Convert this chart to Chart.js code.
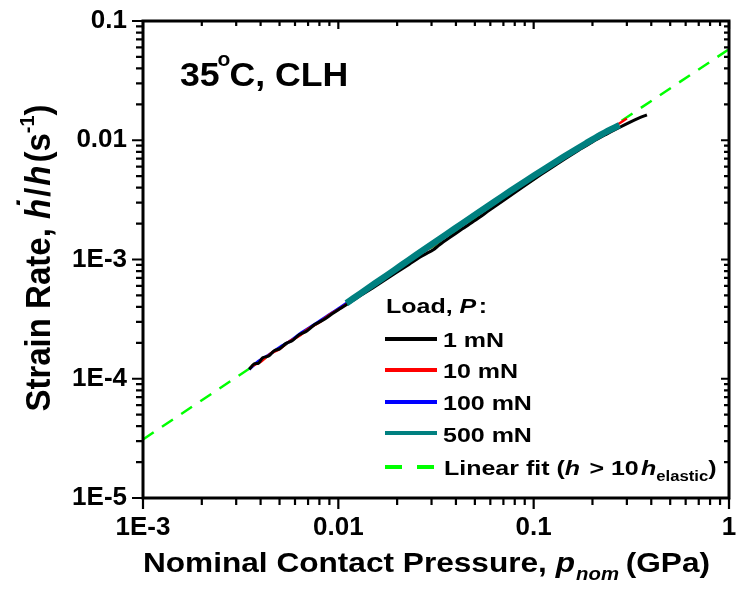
<!DOCTYPE html>
<html lang="en">
<head>
<meta charset="UTF-8" />
<title>Strain rate vs nominal contact pressure</title>
<script src="https://cdn.jsdelivr.net/npm/chart.js@4.4.0/dist/chart.umd.min.js"></script>
<style>
  body { margin: 0; background: #fff; }
</style>
</head>
<body>
<canvas id="myChart" width="736" height="603"></canvas>
<script>
// --- data (x: GPa, y: 1/s) ---
const x1mN = [0.0035,0.0037,0.0039,0.0041,0.0044,0.0047,0.005,0.0054,0.0058,0.0063,0.0069,0.0076,0.0084,0.0093,0.0103,0.0115,0.013,0.015,0.017,0.02,0.023,0.026,0.0285,0.0305,0.033,0.037,0.043,0.05,0.06,0.07,0.085,0.1,0.12,0.145,0.17,0.2,0.235,0.27,0.31,0.345,0.38];
const y1mN = [1.20e-4,1.33e-4,1.35e-4,1.50e-4,1.55e-4,1.72e-4,1.78e-4,1.98e-4,2.08e-4,2.34e-4,2.52e-4,2.86e-4,3.12e-4,3.50e-4,3.90e-4,4.38e-4,4.98e-4,5.78e-4,6.60e-4,7.85e-4,9.10e-4,1.04e-3,1.13e-3,1.20e-3,1.33e-3,1.52e-3,1.80e-3,2.12e-3,2.62e-3,3.12e-3,3.90e-3,4.68e-3,5.72e-3,7.00e-3,8.25e-3,9.70e-3,0.0112,0.0126,0.0141,0.0153,0.0163];

const x10mN = [0.0036,0.004,0.0045,0.005,0.0056,0.0063,0.007,0.008,0.009,0.0103,0.0118,0.0135,0.0155,0.018,0.021,0.025,0.03,0.036,0.043,0.052,0.063,0.076,0.092,0.11,0.13,0.155,0.185,0.22,0.26,0.30];
const y10mN = [1.28e-4,1.38e-4,1.63e-4,1.77e-4,2.05e-4,2.28e-4,2.62e-4,2.96e-4,3.44e-4,3.92e-4,4.58e-4,5.30e-4,6.20e-4,7.30e-4,8.70e-4,1.05e-3,1.28e-3,1.58e-3,1.93e-3,2.38e-3,2.95e-3,3.62e-3,4.45e-3,5.38e-3,6.42e-3,7.72e-3,9.30e-3,0.0111,0.0131,0.0152];

const x100mN = [0.0035,0.0039,0.0044,0.005,0.0057,0.0065,0.0075,0.0087,0.01,0.0115,0.0133,0.0155,0.018,0.021,0.025,0.03,0.036,0.043,0.052,0.063,0.076,0.092,0.11,0.13,0.155,0.185,0.22,0.265];
const y100mN = [1.20e-4,1.40e-4,1.58e-4,1.83e-4,2.08e-4,2.44e-4,2.83e-4,3.33e-4,3.86e-4,4.52e-4,5.30e-4,6.25e-4,7.38e-4,8.75e-4,1.06e-3,1.30e-3,1.60e-3,1.95e-3,2.41e-3,2.98e-3,3.68e-3,4.52e-3,5.45e-3,6.50e-3,7.80e-3,9.35e-3,0.0111,0.0130];

const x500mN = [0.011,0.013,0.0155,0.018,0.021,0.025,0.03,0.036,0.043,0.052,0.063,0.076,0.092,0.11,0.13,0.155,0.185,0.22,0.25,0.275];
const y500mN = [4.30e-4,5.20e-4,6.35e-4,7.50e-4,8.95e-4,1.09e-3,1.34e-3,1.64e-3,2.00e-3,2.47e-3,3.05e-3,3.75e-3,4.60e-3,5.55e-3,6.60e-3,7.90e-3,9.40e-3,0.0111,0.0124,0.0134];

// linear fit (straight on log-log), end points at the axis limits
const xFit = [0.001, 1];
const yFit = [3.1e-5, 0.058];

const xTickValues = [0.001, 0.01, 0.1, 1];
const xTickLabels = ['1E-3', '0.01', '0.1', '1'];
const yTickValues = [1e-5, 1e-4, 1e-3, 0.01, 0.1];
const yTickLabels = ['1E-5', '1E-4', '1E-3', '0.01', '0.1'];

const seriesNames = ['1 mN', '10 mN', '100 mN', '500 mN'];
const seriesColors = ['#000000', '#ff0000', '#0000ff', '#008080'];
const fitColor = '#00ff00';

const FONT = '"Liberation Sans", Arial, sans-serif';

function pts(xs, ys) {
  return xs.map((x, i) => ({ x: x, y: ys[i] }));
}

// draws a run of text pieces left to right, returns width
function richText(ctx, parts, x, y, measureOnly) {
  let cx = x;
  parts.forEach(p => {
    ctx.font = (p.italic ? 'italic ' : '') + 'bold ' + p.size + 'px ' + FONT;
    const w = ctx.measureText(p.t).width;
    if (!measureOnly) {
      ctx.fillText(p.t, cx, y + (p.dy || 0));
      if (p.dot) {
        // dot accent over the italic h
        ctx.fillText('\u02D9', cx + w * 0.42, y - p.size * 0.22);
      }
    }
    cx += w + (p.gap || 0);
  });
  return cx - x;
}

// same, stretched horizontally by sx
function richTextScaled(ctx, parts, x, y, sx) {
  ctx.save();
  ctx.translate(x, y);
  ctx.scale(sx, 1);
  richText(ctx, parts, 0, 0);
  ctx.restore();
}

const decor = {
  id: 'decor',
  afterDatasetsDraw(chart) {
    const ctx = chart.ctx;
    const xs = chart.scales.x, ys = chart.scales.y;
    const L = xs.left, R = xs.right, T = ys.top, B = ys.bottom;
    ctx.save();
    ctx.strokeStyle = '#000';
    ctx.fillStyle = '#000';
    ctx.lineWidth = 3;
    ctx.strokeRect(L, T, R - L, B - T);

    ctx.lineWidth = 2.2;
    ctx.beginPath();
    // x ticks: bottom outward, top inward
    for (let e = -3; e <= 0; e++) {
      for (let m = 1; m <= 9; m++) {
        const v = m * Math.pow(10, e);
        if (v > 1.0001) break;
        const px = xs.getPixelForValue(v);
        const major = m === 1;
        ctx.moveTo(px, B); ctx.lineTo(px, B + (major ? 11 : 7));
        ctx.moveTo(px, T); ctx.lineTo(px, T + (major ? 8 : 5));
      }
    }
    // y ticks: left outward, right inward
    for (let e = -5; e <= -1; e++) {
      for (let m = 1; m <= 9; m++) {
        const v = m * Math.pow(10, e);
        if (v > 0.10001) break;
        const py = ys.getPixelForValue(v);
        const major = m === 1;
        ctx.moveTo(L, py); ctx.lineTo(L - (major ? 11 : 7), py);
        ctx.moveTo(R, py); ctx.lineTo(R - (major ? 8 : 5), py);
      }
    }
    ctx.stroke();

    ctx.textBaseline = 'alphabetic';
    ctx.textAlign = 'left';

    // annotation
    richTextScaled(ctx, [
      { t: '35', size: 34, gap: -2 },
      { t: 'o', size: 20, dy: -20, gap: -1 },
      { t: 'C, CLH', size: 34 }
    ], 180, 86, 1.05);

    // legend
    const sx = 1.19;
    richTextScaled(ctx, [
      { t: 'Load, ', size: 21 },
      { t: 'P', size: 21, italic: true, gap: 2 },
      { t: ':', size: 21 }
    ], 386, 313, sx);
    const rowY = [339, 370, 402, 433];
    const rowBase = [347, 378, 410, 442];
    seriesNames.forEach((name, i) => {
      ctx.strokeStyle = seriesColors[i];
      ctx.lineWidth = 4;
      ctx.setLineDash([]);
      ctx.beginPath();
      ctx.moveTo(385, rowY[i]); ctx.lineTo(437, rowY[i]);
      ctx.stroke();
      richTextScaled(ctx, [{ t: name, size: 21 }], 443, rowBase[i], sx);
    });
    ctx.strokeStyle = fitColor;
    ctx.lineWidth = 4;
    ctx.setLineDash([17, 15]);
    ctx.beginPath();
    ctx.moveTo(385, 467); ctx.lineTo(434, 467);
    ctx.stroke();
    ctx.setLineDash([]);
    richTextScaled(ctx, [
      { t: 'Linear fit (', size: 21 },
      { t: 'h', size: 21, italic: true, gap: 2 },
      { t: ' > 10', size: 21, gap: 2 },
      { t: 'h', size: 21, italic: true },
      { t: 'elastic', size: 14, dy: 6 },
      { t: ')', size: 21 }
    ], 444, 475, sx);

    // x axis title, spread over 143..710 as in the figure
    const xParts = [
      { t: 'Nominal Contact Pressure, ', size: 28 },
      { t: 'p', size: 28, italic: true, gap: 1 },
      { t: 'nom', size: 18, italic: true, dy: 8, gap: 6 },
      { t: '(GPa)', size: 28 }
    ];
    const xw = richText(ctx, xParts, 0, 0, true);
    richTextScaled(ctx, xParts, 143, 572, 567 / xw);

    // y axis title (rotated)
    const yParts = [
      { t: 'Strain Rate, ', size: 33 },
      { t: 'h', size: 33, italic: true, dot: true, gap: 2 },
      { t: '/', size: 33, gap: 2 },
      { t: 'h', size: 33, italic: true, gap: 3 },
      { t: '(s', size: 33 },
      { t: '-1', size: 20, dy: -15 },
      { t: ')', size: 33 }
    ];
    const yw = richText(ctx, yParts, 0, 0, true);
    ctx.save();
    ctx.translate(50, 258);
    ctx.rotate(-Math.PI / 2);
    ctx.scale(1, 1.05);
    richText(ctx, yParts, -yw / 2, 0);
    ctx.restore();

    ctx.restore();
  }
};

const tickFont = { family: FONT, size: 26, weight: 'bold' };

const chart = new Chart(document.getElementById('myChart').getContext('2d'), {
  type: 'scatter',
  data: {
    datasets: [
      { label: seriesNames[3], data: pts(x500mN, y500mN), borderColor: seriesColors[3], borderWidth: 6.5 },
      { label: seriesNames[0], data: pts(x1mN, y1mN), borderColor: seriesColors[0], borderWidth: 3 },
      { label: seriesNames[1], data: pts(x10mN, y10mN), borderColor: seriesColors[1], borderWidth: 2.5 },
      { label: seriesNames[2], data: pts(x100mN, y100mN), borderColor: seriesColors[2], borderWidth: 3 },
      { label: 'Linear fit', data: pts(xFit, yFit), borderColor: fitColor, borderWidth: 2.5, borderDash: [13, 10] }
    ].map(d => Object.assign(d, { showLine: true, pointRadius: 0, tension: 0.3, fill: false }))
  },
  options: {
    responsive: false,
    animation: false,
    layout: { padding: { left: 0, right: 7, top: 21, bottom: 0 } },
    plugins: { legend: { display: false }, tooltip: { enabled: false } },
    scales: {
      x: {
        type: 'logarithmic',
        min: 0.001,
        max: 1,
        grid: { display: false, drawTicks: false },
        border: { display: false },
        afterBuildTicks: s => { s.ticks = xTickValues.map(v => ({ value: v })); },
        afterFit: s => { s.height = 105; s.paddingLeft = 0; s.paddingRight = 0; },
        ticks: {
          color: '#000',
          font: tickFont,
          padding: 14,
          maxRotation: 0,
          autoSkip: false,
          callback: v => xTickLabels[xTickValues.indexOf(v)]
        }
      },
      y: {
        type: 'logarithmic',
        min: 1e-5,
        max: 0.1,
        grid: { display: false, drawTicks: false },
        border: { display: false },
        afterBuildTicks: s => { s.ticks = yTickValues.map(v => ({ value: v })); },
        afterFit: s => { s.width = 143; s.paddingTop = 0; s.paddingBottom = 0; },
        ticks: {
          color: '#000',
          font: tickFont,
          padding: 16,
          autoSkip: false,
          callback: v => yTickLabels[yTickValues.indexOf(v)]
        }
      }
    }
  },
  plugins: [decor]
});
</script>
</body>
</html>
